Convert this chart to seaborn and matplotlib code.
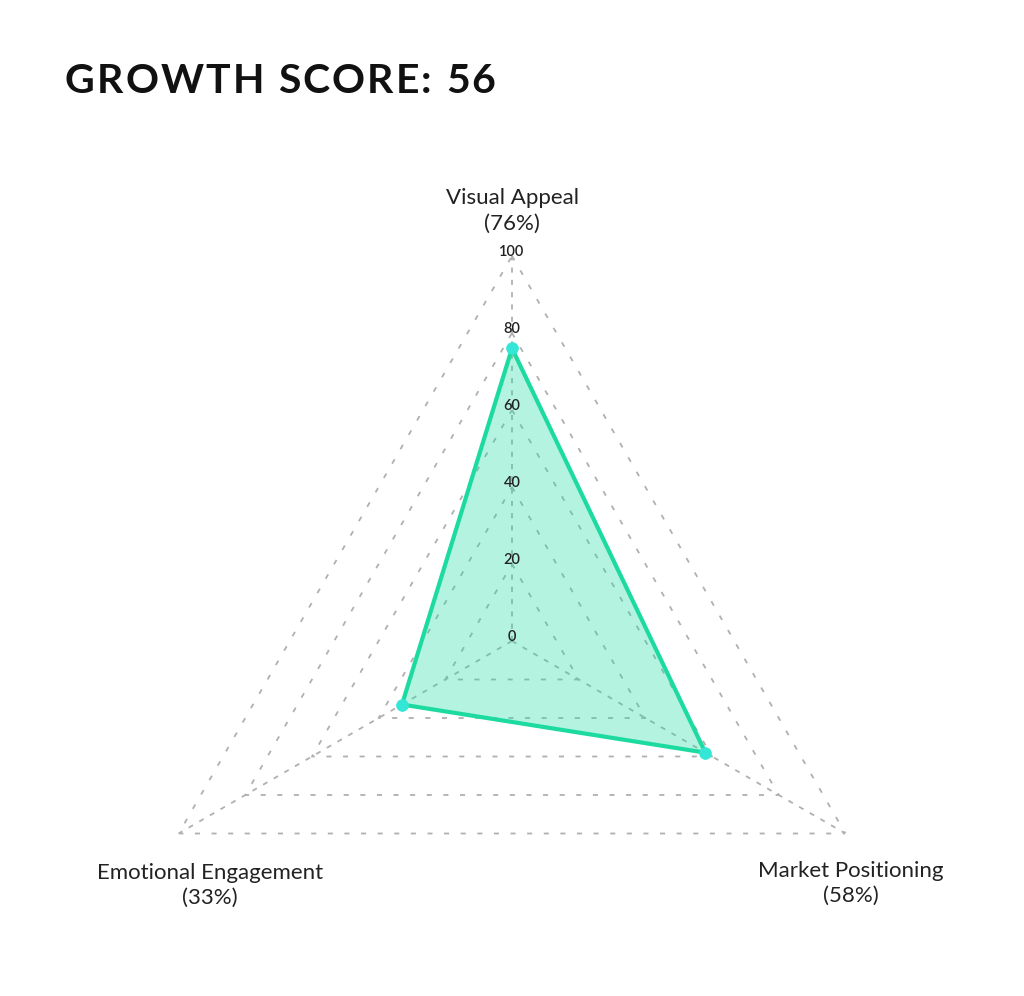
import numpy as np
import matplotlib
matplotlib.use("Agg")
import matplotlib.pyplot as plt
import seaborn as sns

sns.set_theme(style="white")
plt.rcParams["font.family"] = ["Lato", "DejaVu Sans"]

# data
categories = ["Visual Appeal", "Market Positioning", "Emotional Engagement"]
scores = [76, 58, 33]
ring_values = [20, 40, 60, 80, 100]
tick_labels = ["0", "20", "40", "60", "80", "100"]
title = "GROWTH SCORE: 56"

line_color = "#1ddba0"
fill_color = "#1fdca5"
point_color = "#33e6d6"
grid_color = "#b0b0b0"

W, H = 1024, 996
fig = plt.figure(figsize=(W / 100, H / 100), dpi=100)

# polar axes: center (512, 641) px from top, radius 385 px
R = 385
cx, cy = 512, 641
ax = fig.add_axes([(cx - R) / W, (H - cy - R) / H, 2 * R / W, 2 * R / H],
                  projection="polar")
ax.set_theta_offset(np.pi / 2)
ax.set_theta_direction(-1)
ax.set_ylim(0, 100)
ax.grid(False)
ax.spines["polar"].set_visible(False)
ax.set_xticks([])
ax.set_yticks([])
ax.patch.set_alpha(0)

thetas = np.linspace(0, 2 * np.pi, len(categories), endpoint=False)
closed_t = np.append(thetas, thetas[0])

# triangular grid rings
for v in ring_values:
    ax.plot(closed_t, [v] * len(closed_t), color=grid_color, lw=1.3,
            linestyle=(0, (2.8, 6.4)), zorder=1)

# angle lines
for t in thetas:
    ax.plot([t, t], [0, 100], color=grid_color, lw=1.3,
            linestyle=(0, (2.8, 4.0)), zorder=1)

# data polygon
closed_v = np.append(scores, scores[0])
ax.fill(closed_t, closed_v, color=fill_color, alpha=0.33, lw=0, zorder=2)
sns.lineplot(x=closed_t, y=closed_v, sort=False, estimator=None, ax=ax,
             color=line_color, lw=3, zorder=3)
sns.scatterplot(x=thetas, y=scores, ax=ax, color=point_color, s=70,
                edgecolor=point_color, zorder=4)
ax.set_xlabel("")
ax.set_ylabel("")
ax.set_ylim(0, 100)

# radial tick labels
for v, lab in zip([0] + ring_values, tick_labels):
    ax.annotate(lab, xy=(0, v), xytext=(0, 4), textcoords="offset pixels",
                ha="center", va="center", fontsize=10.5, fontweight="semibold",
                color="#222222", annotation_clip=False, zorder=5)

# category labels
offsets = [(0, 45), (5, -50), (31, -52)]
for t, name, val, off in zip(thetas, categories, scores, offsets):
    ax.annotate(f"{name}\n({val}%)", xy=(t, 100), xytext=off,
                textcoords="offset pixels", ha="center", va="center",
                fontsize=16, color="#222222", linespacing=1.35,
                multialignment="center", annotation_clip=False)

# title with a bit of letter spacing
renderer = fig.canvas.get_renderer()
title_kw = dict(fontsize=29.5, fontweight="bold", color="#111111")


def text_width(s):
    t = fig.text(0, 0, s + "I", **title_kw)
    w = t.get_window_extent(renderer).width
    t.remove()
    return w


base = text_width("")
tracking = 2.1
for i, ch in enumerate(title):
    if ch == " ":
        continue
    x_px = 65 + (text_width(title[:i]) - base) + i * tracking
    fig.text(x_px / W, (H - 93) / H, ch, ha="left", va="baseline", **title_kw)

fig.savefig("out.png", dpi=100)
